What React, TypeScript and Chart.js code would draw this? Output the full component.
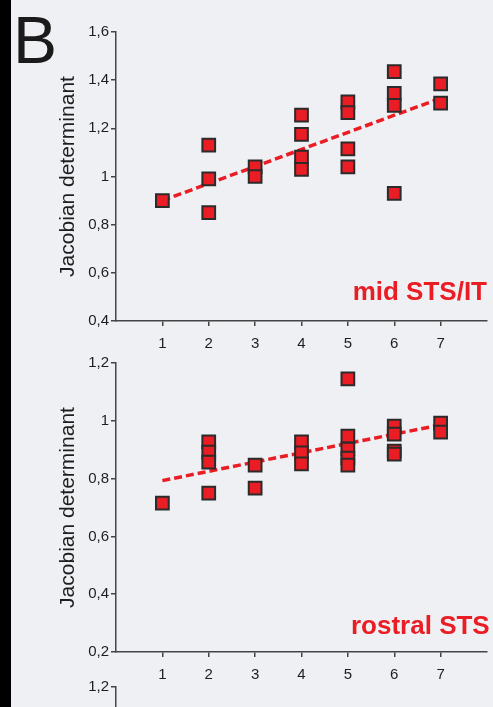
import React, { useEffect, useRef } from "react";
import { Chart, registerables } from "chart.js";

Chart.register(...registerables);

// ---------- data ----------
const xTicks = [1, 2, 3, 4, 5, 6, 7];
const xTickLabels = ["1", "2", "3", "4", "5", "6", "7"];

const midX = [1, 2, 2, 2, 3, 3, 4, 4, 4, 4, 5, 5, 5, 5, 6, 6, 6, 6, 7, 7];
const midY = [0.9, 1.13, 0.99, 0.85, 1.04, 1.0, 1.255, 1.175, 1.08, 1.03, 1.31, 1.265, 1.115, 1.04, 1.435, 1.345, 1.295, 0.93, 1.385, 1.305];
const midTrendX = [1, 7];
const midTrendY = [0.9, 1.325];
const midYTicks = [0.4, 0.6, 0.8, 1, 1.2, 1.4, 1.6];
const midYTickLabels = ["0,4", "0,6", "0,8", "1", "1,2", "1,4", "1,6"];
const midLabel = "mid STS/IT";

const rostralX = [1, 2, 2, 2, 2, 3, 3, 4, 4, 4, 5, 5, 5, 5, 5, 6, 6, 6, 6, 7, 7];
const rostralY = [0.715, 0.927, 0.892, 0.857, 0.75, 0.847, 0.767, 0.927, 0.889, 0.851, 1.145, 0.947, 0.902, 0.871, 0.847, 0.982, 0.954, 0.895, 0.885, 0.992, 0.961];
const rostralTrendX = [1, 7];
const rostralTrendY = [0.793, 0.986];
const rostralYTicks = [0.2, 0.4, 0.6, 0.8, 1, 1.2];
const rostralYTickLabels = ["0,2", "0,4", "0,6", "0,8", "1", "1,2"];
const rostralLabel = "rostral STS";

const thirdYTicks = [0.2, 0.4, 0.6, 0.8, 1, 1.2];
const thirdYTickLabels = ["0,2", "0,4", "0,6", "0,8", "1", "1,2"];

const yTitle = "Jacobian determinant";
const panelLetter = "B";

// ---------- styles ----------
const RED = "rgb(234,28,36)";
const AXIS = "#444";
const TEXT = "#1e1e1e";
const FONT = "'Liberation Sans', Arial, sans-serif";

type PanelProps = {
  top: number;
  height: number;
  padTop: number;
  padBottom: number;
  xs: number[];
  ys: number[];
  trendX: number[];
  trendY: number[];
  yMin: number;
  yMax: number;
  yTicks: number[];
  yTickLabels: string[];
  showX: boolean;
};

function Panel(p: PanelProps) {
  const ref = useRef<HTMLCanvasElement>(null);
  useEffect(() => {
    if (!ref.current) return;
    const pts = p.xs.map((x, i) => ({ x, y: p.ys[i] }));
    const trend = p.trendX.map((x, i) => ({ x, y: p.trendY[i] }));
    const chart = new Chart(ref.current, {
      type: "scatter",
      data: {
        datasets: [
          {
            data: pts,
            pointStyle: "rect",
            pointRadius: 9,
            pointHoverRadius: 9,
            backgroundColor: RED,
            borderColor: "#2b2b2b",
            borderWidth: 2,
            order: 0,
          },
          {
            data: trend,
            showLine: true,
            pointRadius: 0,
            pointHoverRadius: 0,
            borderColor: RED,
            borderWidth: 3.5,
            borderDash: [8, 4],
            fill: false,
            order: 1,
          },
        ],
      },
      options: {
        responsive: false,
        animation: false,
        events: [],
        devicePixelRatio: 1,
        layout: { autoPadding: false, padding: { left: 0, right: 6, top: p.padTop, bottom: p.padBottom } },
        plugins: { legend: { display: false }, tooltip: { enabled: false } },
        scales: {
          x: {
            type: "linear",
            display: p.showX,
            min: 0,
            max: 8,
            afterBuildTicks: (s: any) => {
              s.ticks = xTicks.map((v) => ({ value: v }));
            },
            afterFit: (s: any) => {
              s.height = 30;
              s.paddingLeft = 0;
              s.paddingRight = 0;
            },
            ticks: {
              callback: (_v: any, i: number) => xTickLabels[i],
              font: { family: FONT, size: 15 },
              color: TEXT,
              padding: 9,
              maxRotation: 0,
              autoSkip: false,
            },
            grid: { display: true, drawOnChartArea: false, drawTicks: true, tickLength: 5, color: AXIS, lineWidth: 1.5 },
            border: { display: true, color: AXIS, width: 1.5 },
          },
          y: {
            type: "linear",
            min: p.yMin,
            max: p.yMax,
            afterBuildTicks: (s: any) => {
              s.ticks = p.yTicks.map((v) => ({ value: v }));
            },
            afterFit: (s: any) => {
              s.width = 116;
              s.paddingTop = 0;
              s.paddingBottom = 0;
            },
            ticks: {
              callback: (_v: any, i: number) => p.yTickLabels[i],
              font: { family: FONT, size: 15 },
              color: TEXT,
              padding: 2,
              autoSkip: false,
            },
            grid: { display: true, drawOnChartArea: false, drawTicks: true, tickLength: 5, color: AXIS, lineWidth: 1.5 },
            border: { display: true, color: AXIS, width: 1.5 },
            title: {
              display: true,
              text: yTitle,
              color: TEXT,
              font: { family: FONT, size: 21 },
              padding: { top: 56, bottom: 0 },
            },
          },
        },
      },
    } as any);
    return () => chart.destroy();
  }, []);
  return (
    <canvas
      ref={ref}
      width={493}
      height={p.height}
      style={{ position: "absolute", left: 0, top: p.top, width: 493, height: p.height }}
    />
  );
}

export default function App() {
  return (
    <div
      style={{
        position: "fixed",
        left: 0,
        top: 0,
        width: 493,
        height: 707,
        overflow: "hidden",
        background: "#eff0f3",
        fontFamily: FONT,
      }}
    >
      <div style={{ position: "absolute", left: 0, top: 0, width: 11, height: 707, background: "#000" }} />
      <div
        style={{
          position: "absolute",
          left: 13,
          top: 6.5,
          fontSize: 66,
          lineHeight: 1,
          color: "#1a1a1a",
        }}
      >
        {panelLetter}
      </div>
      <Panel
        top={0}
        height={360}
        padTop={32}
        padBottom={9}
        xs={midX}
        ys={midY}
        trendX={midTrendX}
        trendY={midTrendY}
        yMin={0.4}
        yMax={1.6}
        yTicks={midYTicks}
        yTickLabels={midYTickLabels}
        showX={true}
      />
      <Panel
        top={330}
        height={377}
        padTop={33}
        padBottom={25}
        xs={rostralX}
        ys={rostralY}
        trendX={rostralTrendX}
        trendY={rostralTrendY}
        yMin={0.2}
        yMax={1.2}
        yTicks={rostralYTicks}
        yTickLabels={rostralYTickLabels}
        showX={true}
      />
      <Panel
        top={660}
        height={360}
        padTop={27}
        padBottom={44}
        xs={[]}
        ys={[]}
        trendX={[]}
        trendY={[]}
        yMin={0.2}
        yMax={1.2}
        yTicks={thirdYTicks}
        yTickLabels={thirdYTickLabels}
        showX={false}
      />
      <div
        style={{
          position: "absolute",
          right: 6,
          top: 278,
          fontSize: 26,
          lineHeight: 1,
          fontWeight: "bold",
          color: RED,
          whiteSpace: "nowrap",
        }}
      >
        {midLabel}
      </div>
      <div
        style={{
          position: "absolute",
          left: 351,
          top: 612,
          fontSize: 26,
          lineHeight: 1,
          fontWeight: "bold",
          color: RED,
          whiteSpace: "nowrap",
        }}
      >
        {rostralLabel}
      </div>
    </div>
  );
}
